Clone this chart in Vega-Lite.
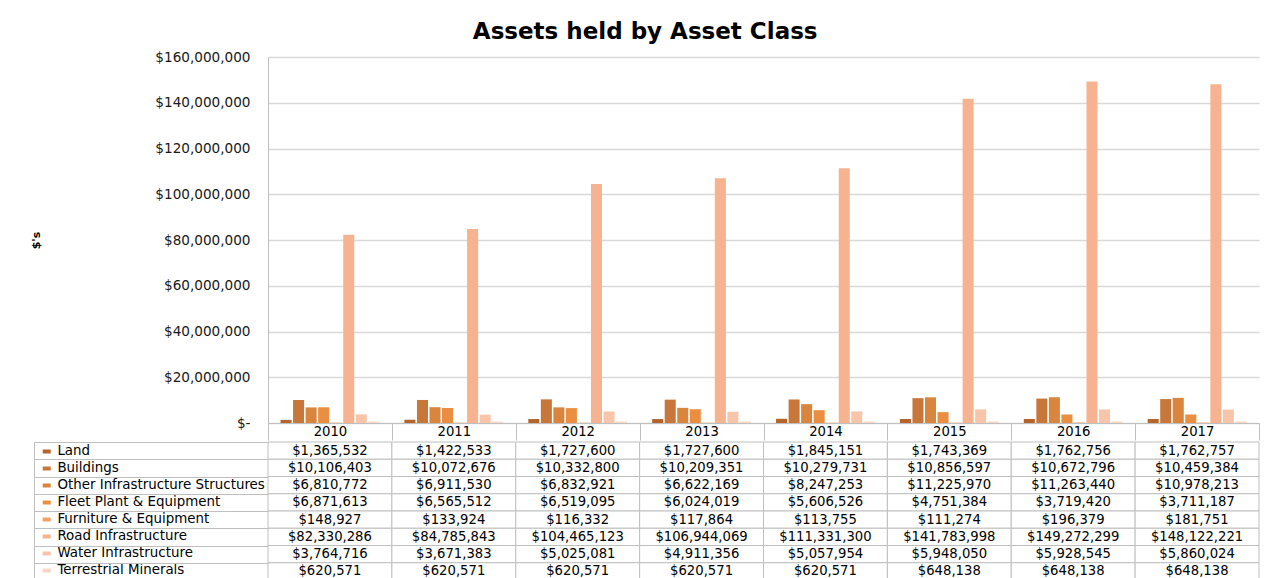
{
  "$schema": "https://vega.github.io/schema/vega-lite/v6.json",
  "padding": {"left": 30, "top": 21, "right": 0, "bottom": 0},
  "background": "white",
  "title": {"text": "Assets held by Asset Class", "font": "DejaVu Sans", "fontSize": 23, "fontWeight": "bold", "color": "black", "anchor": "middle", "offset": 6},
  "data": {"values": [
    {"year": "2010", "asset": "Land", "value": 1365532},
    {"year": "2010", "asset": "Buildings", "value": 10106403},
    {"year": "2010", "asset": "Other Infrastructure Structures", "value": 6810772},
    {"year": "2010", "asset": "Fleet Plant & Equipment", "value": 6871613},
    {"year": "2010", "asset": "Furniture & Equipment", "value": 148927},
    {"year": "2010", "asset": "Road Infrastructure", "value": 82330286},
    {"year": "2010", "asset": "Water Infrastructure", "value": 3764716},
    {"year": "2010", "asset": "Terrestrial Minerals", "value": 620571},
    {"year": "2011", "asset": "Land", "value": 1422533},
    {"year": "2011", "asset": "Buildings", "value": 10072676},
    {"year": "2011", "asset": "Other Infrastructure Structures", "value": 6911530},
    {"year": "2011", "asset": "Fleet Plant & Equipment", "value": 6565512},
    {"year": "2011", "asset": "Furniture & Equipment", "value": 133924},
    {"year": "2011", "asset": "Road Infrastructure", "value": 84785843},
    {"year": "2011", "asset": "Water Infrastructure", "value": 3671383},
    {"year": "2011", "asset": "Terrestrial Minerals", "value": 620571},
    {"year": "2012", "asset": "Land", "value": 1727600},
    {"year": "2012", "asset": "Buildings", "value": 10332800},
    {"year": "2012", "asset": "Other Infrastructure Structures", "value": 6832921},
    {"year": "2012", "asset": "Fleet Plant & Equipment", "value": 6519095},
    {"year": "2012", "asset": "Furniture & Equipment", "value": 116332},
    {"year": "2012", "asset": "Road Infrastructure", "value": 104465123},
    {"year": "2012", "asset": "Water Infrastructure", "value": 5025081},
    {"year": "2012", "asset": "Terrestrial Minerals", "value": 620571},
    {"year": "2013", "asset": "Land", "value": 1727600},
    {"year": "2013", "asset": "Buildings", "value": 10209351},
    {"year": "2013", "asset": "Other Infrastructure Structures", "value": 6622169},
    {"year": "2013", "asset": "Fleet Plant & Equipment", "value": 6024019},
    {"year": "2013", "asset": "Furniture & Equipment", "value": 117864},
    {"year": "2013", "asset": "Road Infrastructure", "value": 106944069},
    {"year": "2013", "asset": "Water Infrastructure", "value": 4911356},
    {"year": "2013", "asset": "Terrestrial Minerals", "value": 620571},
    {"year": "2014", "asset": "Land", "value": 1845151},
    {"year": "2014", "asset": "Buildings", "value": 10279731},
    {"year": "2014", "asset": "Other Infrastructure Structures", "value": 8247253},
    {"year": "2014", "asset": "Fleet Plant & Equipment", "value": 5606526},
    {"year": "2014", "asset": "Furniture & Equipment", "value": 113755},
    {"year": "2014", "asset": "Road Infrastructure", "value": 111331300},
    {"year": "2014", "asset": "Water Infrastructure", "value": 5057954},
    {"year": "2014", "asset": "Terrestrial Minerals", "value": 620571},
    {"year": "2015", "asset": "Land", "value": 1743369},
    {"year": "2015", "asset": "Buildings", "value": 10856597},
    {"year": "2015", "asset": "Other Infrastructure Structures", "value": 11225970},
    {"year": "2015", "asset": "Fleet Plant & Equipment", "value": 4751384},
    {"year": "2015", "asset": "Furniture & Equipment", "value": 111274},
    {"year": "2015", "asset": "Road Infrastructure", "value": 141783998},
    {"year": "2015", "asset": "Water Infrastructure", "value": 5948050},
    {"year": "2015", "asset": "Terrestrial Minerals", "value": 648138},
    {"year": "2016", "asset": "Land", "value": 1762756},
    {"year": "2016", "asset": "Buildings", "value": 10672796},
    {"year": "2016", "asset": "Other Infrastructure Structures", "value": 11263440},
    {"year": "2016", "asset": "Fleet Plant & Equipment", "value": 3719420},
    {"year": "2016", "asset": "Furniture & Equipment", "value": 196379},
    {"year": "2016", "asset": "Road Infrastructure", "value": 149272299},
    {"year": "2016", "asset": "Water Infrastructure", "value": 5928545},
    {"year": "2016", "asset": "Terrestrial Minerals", "value": 648138},
    {"year": "2017", "asset": "Land", "value": 1762757},
    {"year": "2017", "asset": "Buildings", "value": 10459384},
    {"year": "2017", "asset": "Other Infrastructure Structures", "value": 10978213},
    {"year": "2017", "asset": "Fleet Plant & Equipment", "value": 3711187},
    {"year": "2017", "asset": "Furniture & Equipment", "value": 181751},
    {"year": "2017", "asset": "Road Infrastructure", "value": 148122221},
    {"year": "2017", "asset": "Water Infrastructure", "value": 5860024},
    {"year": "2017", "asset": "Terrestrial Minerals", "value": 648138}
  ]},
  "spacing": 0,
  "resolve": {"legend": {"color": "independent"}},
  "vconcat": [
    {
      "width": 991,
      "height": 366,
      "view": {"stroke": null},
      "mark": {"type": "bar"},
      "encoding": {
        "x": {"field": "year", "type": "nominal", "scale": {"paddingInner": 0, "paddingOuter": 0},
          "axis": {"title": null, "labelAngle": 0, "domain": true, "domainColor": "#bfbfbf", "domainWidth": 1.2,
            "ticks": true, "tickBand": "extent", "tickSize": 17, "tickColor": "#bfbfbf", "tickWidth": 1,
            "labelPadding": -15, "labelFont": "DejaVu Sans", "labelFontSize": 13.2, "labelColor": "black"}},
        "xOffset": {"field": "asset", "type": "nominal",
          "sort": ["Land", "Buildings", "Other Infrastructure Structures", "Fleet Plant & Equipment", "Furniture & Equipment", "Road Infrastructure", "Water Infrastructure", "Terrestrial Minerals"],
          "scale": {"paddingOuter": 1, "paddingInner": 0.12}},
        "y": {"field": "value", "type": "quantitative", "scale": {"domain": [0, 160000000]},
          "axis": {"values": [0, 20000000, 40000000, 60000000, 80000000, 100000000, 120000000, 140000000, 160000000],
            "labelExpr": "datum.value === 0 ? '$-' : '$' + format(datum.value, ',')",
            "title": "$'s", "titleFont": "DejaVu Sans", "titleFontSize": 11, "titleFontWeight": "bold", "titleColor": "black", "titlePadding": 113,
            "grid": true, "gridColor": "#d9d9d9", "gridWidth": 1.5, "ticks": false, "domain": true, "domainColor": "#bfbfbf",
            "labelPadding": 18, "labelFont": "DejaVu Sans", "labelFontSize": 13.6, "labelColor": "#1a1a1a"}},
        "color": {"field": "asset", "type": "nominal", "legend": null,
          "scale": {"domain": ["Land", "Buildings", "Other Infrastructure Structures", "Fleet Plant & Equipment", "Furniture & Equipment", "Road Infrastructure", "Water Infrastructure", "Terrestrial Minerals"],
            "range": ["#b5652b", "#c8773a", "#d9853d", "#ea8f42", "#f29f62", "#f7b28f", "#f9c5aa", "#fbd5c4"]}}
      }
    },
    {
      "width": 991,
      "height": 138,
      "view": {"stroke": null},
      "encoding": {
        "x": {"field": "year", "type": "nominal", "scale": {"paddingInner": 0, "paddingOuter": 0}, "axis": null},
        "y": {"field": "asset", "type": "nominal",
          "sort": ["Land", "Buildings", "Other Infrastructure Structures", "Fleet Plant & Equipment", "Furniture & Equipment", "Road Infrastructure", "Water Infrastructure", "Terrestrial Minerals"],
          "scale": {"paddingInner": 0, "paddingOuter": 0},
          "axis": {"title": null, "labels": false, "offset": 234, "domain": true, "domainColor": "#bfbfbf",
            "ticks": true, "tickBand": "extent", "tickSize": -234, "tickColor": "#bfbfbf"}}
      },
      "layer": [
        {"mark": {"type": "rect", "fill": "white", "stroke": "#bfbfbf", "strokeWidth": 1}},
        {"mark": {"type": "text", "font": "DejaVu Sans", "fontSize": 13.2, "color": "black"},
          "encoding": {"text": {"field": "value", "type": "quantitative", "format": "$,.0f"}}},
        {"mark": {"type": "rect", "opacity": 0},
          "encoding": {"color": {"field": "asset", "type": "nominal",
            "sort": ["Land", "Buildings", "Other Infrastructure Structures", "Fleet Plant & Equipment", "Furniture & Equipment", "Road Infrastructure", "Water Infrastructure", "Terrestrial Minerals"],
            "legend": {"orient": "none", "legendX": -228, "legendY": 1, "title": null,
              "symbolType": "M-1,-0.5H1V0.5H-1Z", "symbolSize": 64, "symbolOpacity": 1, "symbolStrokeWidth": 0,
              "clipHeight": 16.85, "rowPadding": 0, "padding": 0, "labelOffset": 4,
              "labelFont": "DejaVu Sans", "labelFontSize": 13.4, "labelColor": "black", "labelLimit": 260}}}}
      ]
    }
  ]
}
